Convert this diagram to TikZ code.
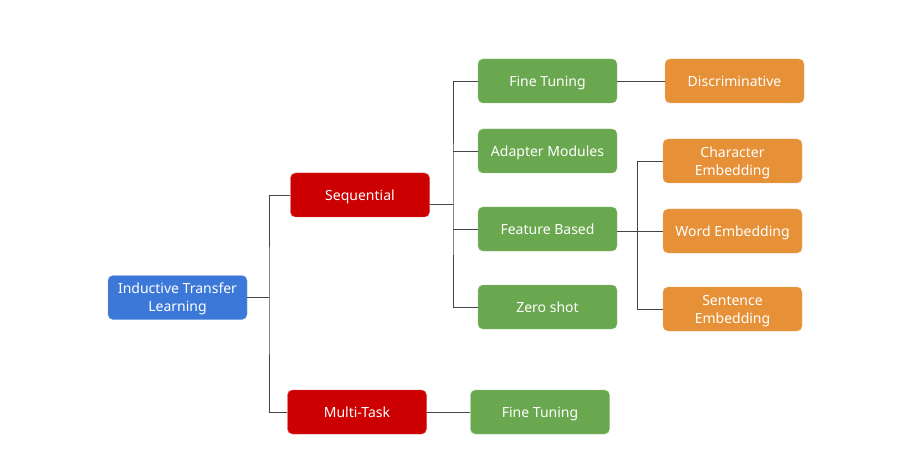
\documentclass[tikz,border=0pt]{standalone}
\usepackage{fontspec}
\setmainfont{Noto Sans}
\usepackage{tikz}
\usetikzlibrary{calc}
\definecolor{tlblue}{HTML}{3C78D8}
\definecolor{tlred}{HTML}{CC0000}
\definecolor{tlgreen}{HTML}{6AA84F}
\definecolor{tlorange}{HTML}{E69138}
\definecolor{tlline}{HTML}{444444}
\tikzset{
	box/.style={rounded corners=5pt, minimum width=139pt, minimum height=44pt, inner sep=0pt,
		align=center, text=white, text depth=0pt, font=\fontsize{14}{18}\selectfont},
	rootbox/.style={box, fill=tlblue, draw=tlblue!70!white},
	kindbox/.style={box, fill=tlred, draw=tlred!70!white},
	methodbox/.style={box, fill=tlgreen, draw=tlgreen!70!white},
	subbox/.style={box, fill=tlorange, draw=tlorange!70!white},
	link/.style={draw=tlline, line width=0.9pt}
}

\begin{document}
\begin{tikzpicture}[x=1pt, y=-1pt]
		%%%%% START %%%%%
		\useasboundingbox (0, 0) rectangle (901, 462);
		
		\node[rootbox] (itl) at (177.5, 297.5) {Inductive Transfer\\Learning};
		
		\node[kindbox] (seq) at (360, 195) {Sequential};
		\node[kindbox] (multi) at (357, 412) {Multi-Task};
		
		\node[methodbox] (fine) at (547.5, 81) {Fine Tuning};
		\node[methodbox] (adapter) at (547.5, 151) {Adapter Modules};
		\node[methodbox] (feature) at (547.5, 229) {Feature Based};
		\node[methodbox] (zero) at (547.5, 307) {Zero shot};
		\node[methodbox] (multifine) at (540, 412) {Fine Tuning};
		
		\node[subbox] (discr) at (734.5, 81) {Discriminative};
		\node[subbox] (charemb) at (732.5, 161) {Character\\Embedding};
		\node[subbox] (wordemb) at (732.5, 231) {Word Embedding};
		\node[subbox] (sentemb) at (732.5, 309) {Sentence\\Embedding};
		
		% root to kinds
		\coordinate (trunkA) at (269, 297.5);
		\draw[link] (itl.east) -- (trunkA);
		\draw[link] (seq.west) -| (trunkA) |- (multi.west);
		
		% sequential to methods
		\coordinate (trunkB) at (453, 204);
		\draw[link] ([yshift=-9pt]seq.east) -- (trunkB);
		\draw[link] (fine.west) -| (trunkB) |- (zero.west);
		\draw[link] (adapter.west) -- (adapter.west -| trunkB);
		\draw[link] (feature.west) -- (feature.west -| trunkB);
		
		% feature based to embeddings
		\coordinate (trunkC) at (637, 231);
		\draw[link] (feature.east |- wordemb.west) -- (wordemb.west);
		\draw[link] (charemb.west) -| (trunkC) |- (sentemb.west);
		
		\draw[link] (fine.east) -- (discr.west);
		\draw[link] (multi.east) -- (multifine.west);
		
		%%%%% END %%%%%
	\end{tikzpicture}
\end{document}
